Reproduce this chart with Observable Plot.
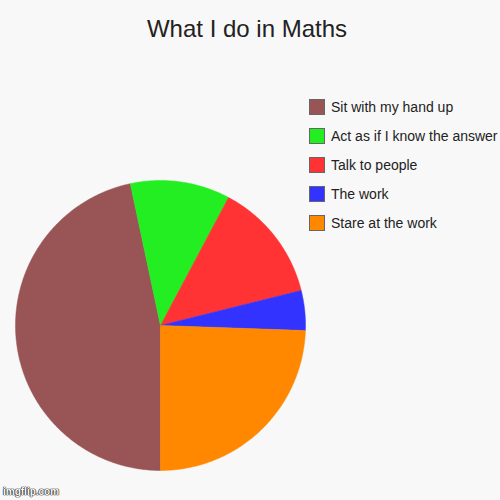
<!DOCTYPE html>
<html>
<head>
<meta charset="utf-8">
<script src="https://cdn.jsdelivr.net/npm/d3@7"></script>
<script src="https://cdn.jsdelivr.net/npm/@observablehq/plot@0.6"></script>
<style>
  html, body { margin: 0; padding: 0; background: #f8f8f8; }
  #wrap { position: relative; width: 500px; height: 500px; background: #f8f8f8; font-family: "Liberation Sans", Arial, sans-serif; overflow: hidden; }
  #title { position: absolute; left: 0; top: 15px; width: 494px; text-align: center; font-size: 24px; line-height: 28px; color: #222; }
  #chart { position: absolute; left: 0; top: 0; }
  #legend { position: absolute; left: 309px; top: 92px; }
  .item { display: flex; align-items: center; height: 29px; }
  .sw { width: 14px; height: 14px; border: 1px solid #666; margin-right: 6px; flex: none; }
  .lab { font-size: 14px; color: #222; white-space: nowrap; }
  #wm { position: absolute; left: 3px; bottom: 3px; font-size: 10px; font-weight: bold; color: #fff; text-shadow: 0 0 1px #000, 0 0 1px #000, 0 0 1px #000; }
</style>
</head>
<body>
<div id="wrap">
  <div id="chart"></div>
  <div id="title">What I do in Maths</div>
  <div id="legend"></div>
  <div id="wm">imgflip.com</div>
</div>
<script>
// Data (legend order, drawn clockwise starting at 6 o'clock)
const categories = ["Sit with my hand up", "Act as if I know the answer", "Talk to people", "The work", "Stare at the work"];
const values = [21, 5, 6, 2, 11];
const colors = ["#995555", "#22ee22", "#ff3333", "#3333ff", "#ff8800"];

const data = categories.map((c, i) => ({category: c, value: values[i]}));
const arcs = d3.pie().sort(null).value(d => d.value).startAngle(Math.PI).endAngle(3 * Math.PI)(data);

// Build slice outlines in unit coordinates
const pts = [];
for (const a of arcs) {
  const c = a.data.category;
  pts.push({category: c, x: 0, y: 0});
  const n = Math.max(2, Math.ceil((a.endAngle - a.startAngle) / (Math.PI / 360)));
  for (let k = 0; k <= n; k++) {
    const t = a.startAngle + (a.endAngle - a.startAngle) * k / n;
    pts.push({category: c, x: Math.sin(t), y: Math.cos(t)});
  }
  pts.push({category: c, x: 0, y: 0});
}

const chart = Plot.plot({
  width: 500,
  height: 500,
  margin: 0,
  style: {background: "transparent"},
  x: {domain: [-1, 1], range: [15, 305], axis: null},
  y: {domain: [-1, 1], range: [470, 180], axis: null},
  color: {domain: categories, range: colors},
  marks: [
    Plot.line(pts, {x: "x", y: "y", z: "category", fill: "category", stroke: "category", strokeWidth: 0.5, curve: "linear"})
  ]
});
document.getElementById("chart").appendChild(chart);

const legend = document.getElementById("legend");
categories.forEach((c, i) => {
  const item = document.createElement("div");
  item.className = "item";
  const sw = document.createElement("div");
  sw.className = "sw";
  sw.style.background = colors[i];
  const lab = document.createElement("span");
  lab.className = "lab";
  lab.textContent = c;
  item.appendChild(sw);
  item.appendChild(lab);
  legend.appendChild(item);
});
</script>
</body>
</html>
